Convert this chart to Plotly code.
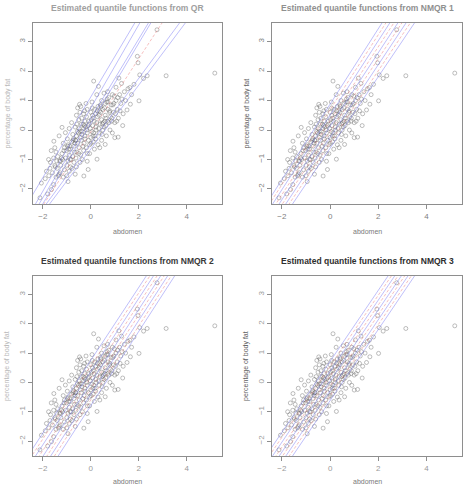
import plotly.graph_objects as go
import numpy as np

# ---------------- data ----------------
abdomen = [-2.12,-2.06,-1.80,-1.64,-1.75,-1.90,-1.55,-1.60,-1.45,-1.35,-1.32,-1.28,-1.40,-1.50,-1.68,-1.76,-1.55,-1.50,-1.54,-1.65,
           -1.45,-1.38,-1.30,-1.25,-1.20,-1.32,-1.20,-1.06,-1.15,-1.10,-1.05,-1.00,-1.10,-1.15,-0.95,-1.00,-0.90,-0.85,-0.95,-0.90,
           -0.85,-0.95,-0.80,-0.80,-0.90,-0.75,-0.70,-0.75,-0.70,-0.78,-0.65,-0.60,-0.62,-0.58,-0.55,-0.60,-0.65,-0.60,-0.55,-0.47,
           -0.42,-0.45,-0.50,-0.40,-0.45,-0.40,-0.48,-0.42,-0.45,-0.35,-0.29,-0.30,-0.28,-0.25,-0.30,-0.25,-0.30,-0.20,-0.15,-0.18,
           -0.12,-0.15,-0.10,-0.18,-0.15,-0.11,-0.05,-0.05,0.00,-0.02,0.02,0.00,0.05,0.12,0.10,0.08,0.12,0.10,0.15,0.26,
           0.20,0.22,0.25,0.20,0.30,0.32,0.25,0.35,0.38,0.35,0.375,0.45,0.50,0.45,0.50,0.45,0.55,0.60,0.60,0.62,
           0.60,0.65,0.70,0.72,0.75,0.70,0.80,0.82,0.85,0.90,0.90,0.95,1.00,1.00,1.05,1.05,1.10,1.14,1.15,1.17,
           1.20,1.25,1.28,1.33,1.35,1.40,1.45,1.51,1.55,1.63,1.65,1.70,1.80,1.94,1.97,2.01,2.04,2.20,2.35,2.76,
           3.14,5.17,
           -1.85,-1.70,-1.42,-1.22,-1.02,-0.88,-0.72,-0.68,-0.52,-0.38,-0.33,-0.22,-0.08,0.04,0.16,0.28,0.40,0.52,0.66,0.78,
           0.88,0.98,1.08,1.22,-0.98,-0.82,-0.58,-0.36,-0.14,0.06,0.30,0.55,0.76,-1.18,-0.64,-0.26,0.18,0.42,0.68,0.92,
           -1.48,-1.26,-1.12,-0.92,-0.86,-0.74,-0.66,-0.56,-0.50,-0.44,-0.37,-0.32,-0.24,-0.17,-0.07,0.01,0.07,0.14,0.21,0.27,
           0.33,0.41,0.48,0.57,0.63,0.71,0.79,0.87,0.96,1.03,1.12,1.30,-0.62,-0.27,0.09,0.36,0.58,-0.97,-0.49,0.47]
bodyfat = [-2.30,-1.80,-2.17,-2.02,-1.55,-1.65,-1.85,-1.45,-1.60,-1.55,-1.50,-1.45,-1.30,-1.20,-1.10,-1.00,-0.95,-0.60,-0.38,-0.70,
           -0.75,-0.90,-1.05,-1.20,-0.80,-0.20,0.09,-0.09,-0.45,-0.60,-0.95,-1.20,-1.35,-1.60,-1.75,-1.55,-1.40,-1.25,-1.05,-0.85,
           -0.65,-0.50,-0.40,0.25,0.05,-0.15,-0.55,-0.90,-1.10,-1.30,-1.50,-1.25,-0.95,-0.75,-0.45,-0.20,0.10,0.50,0.75,0.87,
           0.80,0.60,0.35,0.20,-0.05,-0.35,-0.60,-0.85,-1.10,-1.00,-1.56,-0.70,-0.45,-0.20,0.05,0.30,0.55,0.90,0.70,0.45,
           0.15,-0.10,-0.35,-0.60,-1.06,-1.34,-0.80,-0.50,-0.25,0.05,0.35,0.60,0.95,1.66,0.40,0.15,-0.10,-0.40,-0.65,-0.99,
           -0.30,0.00,0.25,0.55,0.80,1.48,1.20,0.50,0.20,-0.10,-0.60,-0.35,0.00,0.35,0.70,1.00,1.25,0.90,0.50,0.15,
           -0.49,-0.20,0.30,0.70,1.10,1.30,0.00,0.45,0.85,1.20,-0.10,0.60,-0.26,0.25,1.00,1.45,0.70,-0.24,0.40,1.76,
           1.20,0.90,1.58,0.15,0.55,1.30,1.00,0.68,1.40,1.44,0.875,1.20,1.55,2.50,2.28,0.99,1.87,1.75,1.84,3.40,
           1.84,1.93,
           -1.40,-1.30,-1.05,-0.95,-0.70,-0.55,-0.30,-0.75,-0.10,0.40,-0.55,0.10,0.30,-0.05,0.70,0.45,0.85,0.25,0.95,0.60,
           0.40,1.15,0.30,0.65,-0.30,-1.00,0.20,-0.05,-0.80,0.75,-0.50,0.10,0.25,-1.00,-0.35,0.65,-0.20,0.80,1.05,0.85,
           -1.25,-1.05,-0.70,-0.65,-1.00,-0.35,-0.45,-0.05,-0.80,-0.25,-0.15,0.20,-0.30,0.00,0.20,-0.45,0.50,0.30,0.10,0.65,
           0.05,0.60,0.20,0.75,0.40,0.95,0.65,0.30,0.90,0.55,1.10,1.05,-0.35,0.15,-0.20,0.65,0.30,-0.55,0.05,-0.15]

panel_titles = ["Estimated quantile functions from QR",
                "Estimated quantile functions from NMQR 1",
                "Estimated quantile functions from NMQR 2",
                "Estimated quantile functions from NMQR 3"]
x_label = "abdomen"
y_label = "percentage of body fat"
x_ticks = [-2, 0, 2, 4]
y_ticks = [-2, -1, 0, 1, 2, 3]

# quantile lines: intercept, slope, style ("b" blue solid / "r" red dashed)
qr_intercepts = [1.123, 0.748, 0.396, 0.224, -0.070, -0.456, -0.645]
qr_slopes     = [1.369, 1.412, 1.347, 1.362, 1.246, 1.105, 1.085]
qr_styles     = ["b", "b", "b", "b", "r", "b", "b"]

nm1_intercepts = [0.878, 0.690, 0.503, 0.316, 0.130, -0.057, -0.244, -0.431, -0.618]
nm1_slopes     = [1.280, 1.272, 1.264, 1.255, 1.247, 1.239, 1.231, 1.222, 1.214]
nm2_intercepts = [0.756, 0.563, 0.370, 0.177, -0.017, -0.210, -0.403, -0.597, -0.790]
nm2_slopes     = [1.243, 1.246, 1.249, 1.251, 1.254, 1.257, 1.260, 1.262, 1.265]
nm3_intercepts = [0.720, 0.553, 0.385, 0.218, 0.050, -0.118, -0.285, -0.453, -0.620]
nm3_slopes     = [1.212, 1.212, 1.212, 1.213, 1.213, 1.213, 1.213, 1.214, 1.214]
nm_styles      = ["b", "r", "b", "r", "b", "r", "b", "r", "b"]

# ---------------- layout helpers ----------------
W, H = 463, 485
def px_x(p): return p / W
def px_y(p): return 1 - p / H

boxes = [(33, 222, 23, 204), (272, 462, 23, 204), (33, 222, 276, 456), (272, 462, 276, 456)]
title_y = [8, 8, 261, 261]
xlab_y = [231, 231, 481, 481]
title_col = ["#a0a0a0", "#909090", "#3a3a3a", "#2e2e2e"]
ylab_col = ["#b8b8b8", "#606060", "#b8b8b8", "#606060"]
tick_col = ["#8a8a8a", "#808080", "#9a9a9a", "#9a9a9a"]
xr = [-2.41, 5.47]
yr = [-2.51, 3.63]

fig = go.Figure()
line_sets = [(qr_intercepts, qr_slopes, qr_styles),
             (nm1_intercepts, nm1_slopes, nm_styles),
             (nm2_intercepts, nm2_slopes, nm_styles),
             (nm3_intercepts, nm3_slopes, nm_styles)]
xs = np.linspace(-3, 6, 50)
annotations = []
for i in range(4):
    sfx = "" if i == 0 else str(i + 1)
    xa, ya = "x" + sfx, "y" + sfx
    fig.add_trace(go.Scatter(x=abdomen, y=bodyfat, mode="markers", xaxis=xa, yaxis=ya,
                             marker=dict(symbol="circle-open", size=4,
                                         color="rgba(95,95,95,0.5)", line=dict(width=0.8)),
                             showlegend=False, hoverinfo="skip"))
    ints, slps, sty = line_sets[i]
    for a, b, s in zip(ints, slps, sty):
        if s == "b":
            ln = dict(color="rgba(120,120,245,0.6)", width=0.8)
        else:
            ln = dict(color="rgba(235,120,120,0.6)", width=0.8, dash="3px,2px")
        fig.add_trace(go.Scatter(x=xs, y=a + b * xs, mode="lines", xaxis=xa, yaxis=ya,
                                 line=ln, showlegend=False, hoverinfo="skip"))
    l, r, t, bt = boxes[i]
    axis_common = dict(showgrid=False, zeroline=False, showline=True, mirror=True,
                       linecolor="#8e8e8e", linewidth=1, ticks="outside", ticklen=4,
                       tickcolor="#8e8e8e", tickfont=dict(family="Liberation Sans", size=8, color=tick_col[i]))
    fig.update_layout(**{
        "xaxis" + sfx: dict(domain=[px_x(l), px_x(r)], range=xr, anchor=ya, tickvals=x_ticks, **axis_common),
        "yaxis" + sfx: dict(domain=[px_y(bt), px_y(t)], range=yr, anchor=xa, tickvals=y_ticks,
                            tickangle=-90, **axis_common),
    })
    cx = (l + r) / 2
    annotations.append(dict(text="<b>" + panel_titles[i] + "</b>", x=px_x(cx), y=px_y(title_y[i]),
                            xref="paper", yref="paper", showarrow=False, xanchor="center", yanchor="middle",
                            font=dict(family="Liberation Sans", size=8.5, color=title_col[i])))
    annotations.append(dict(text=x_label, x=px_x(cx), y=px_y(xlab_y[i]), xref="paper", yref="paper",
                            showarrow=False, xanchor="center", yanchor="middle",
                            font=dict(family="Liberation Sans", size=7, color="#7a7a7a")))
    annotations.append(dict(text=y_label, x=px_x(l - 26), y=px_y((t + bt) / 2), xref="paper", yref="paper",
                            showarrow=False, xanchor="center", yanchor="middle", textangle=-90,
                            font=dict(family="Liberation Sans", size=7, color=ylab_col[i])))

fig.update_layout(width=W, height=H, margin=dict(l=0, r=0, t=0, b=0),
                  paper_bgcolor="white", plot_bgcolor="white", annotations=annotations)
fig.write_html("out.html")
